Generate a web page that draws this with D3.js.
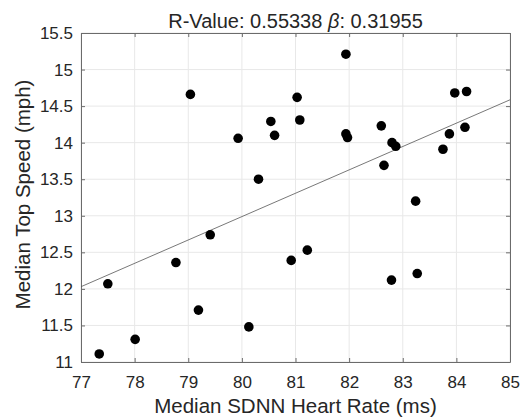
<!DOCTYPE html>
<html>
<head>
<meta charset="utf-8">
<script src="https://cdn.jsdelivr.net/npm/d3@7"></script>
<style>
  body { margin: 0; background: #fff; }
  text { font-family: "Liberation Sans", Arial, Helvetica, sans-serif; fill: #262626; }
</style>
</head>
<body>
<div id="chart"></div>
<script>
// data
var heartRate = [77.34, 77.50, 78.01, 78.77, 79.19, 79.41, 79.04, 79.93, 80.13, 80.31,
                 80.54, 80.61, 80.92, 81.03, 81.08, 81.22, 81.94, 81.94, 81.97, 82.60,
                 82.65, 82.79, 82.80, 82.87, 83.24, 83.27, 83.75, 83.87, 83.97, 84.19, 84.16];
var topSpeed  = [11.11, 12.07, 11.31, 12.36, 11.71, 12.74, 14.66, 14.06, 11.48, 13.50,
                 14.29, 14.10, 12.39, 14.62, 14.31, 12.53, 15.21, 14.12, 14.07, 14.23,
                 13.69, 12.12, 14.00, 13.95, 13.20, 12.21, 13.91, 14.12, 14.68, 14.70, 14.21];
var xTicks = [77, 78, 79, 80, 81, 82, 83, 84, 85];
var yTicks = [11, 11.5, 12, 12.5, 13, 13.5, 14, 14.5, 15, 15.5];
var rValue = 0.55338,
    beta = 0.31955,
    intercept77 = 12.03; // fitted line value at x = 77

var W = 522, H = 417,
    plotLeft = 81, plotRight = 510, plotTop = 33, plotBottom = 362,
    axisColor = '#6b6b6b',
    gridColor = '#e8e8e8',
    tickLen = 4;

var svg = d3.select('#chart').append('svg')
    .attr('width', W)
    .attr('height', H);

var x = d3.scaleLinear().domain([77, 85]).range([plotLeft, plotRight]);
var y = d3.scaleLinear().domain([11, 15.5]).range([plotBottom, plotTop]);

// grid
svg.append('g').selectAll('line').data(xTicks).enter().append('line')
    .attr('x1', function (d) { return x(d); }).attr('x2', function (d) { return x(d); })
    .attr('y1', plotTop).attr('y2', plotBottom)
    .attr('stroke', gridColor).attr('stroke-width', 1);
svg.append('g').selectAll('line').data(yTicks).enter().append('line')
    .attr('y1', function (d) { return y(d); }).attr('y2', function (d) { return y(d); })
    .attr('x1', plotLeft).attr('x2', plotRight)
    .attr('stroke', gridColor).attr('stroke-width', 1);

// axes, ticks pointing inside
var xAxis = d3.axisBottom(x).tickValues(xTicks).tickSizeInner(-tickLen).tickSizeOuter(0).tickPadding(14)
    .tickFormat(d3.format('d'));
var xTop = d3.axisTop(x).tickValues(xTicks).tickSizeInner(-tickLen).tickSizeOuter(0).tickFormat('');
var yAxis = d3.axisLeft(y).tickValues(yTicks).tickSizeInner(-tickLen).tickSizeOuter(0).tickPadding(8)
    .tickFormat(function (d) { return String(d); });
var yRight = d3.axisRight(y).tickValues(yTicks).tickSizeInner(-tickLen).tickSizeOuter(0).tickFormat('');

function styleAxis(g) {
    g.selectAll('path').attr('stroke', axisColor);
    g.selectAll('line').attr('stroke', axisColor);
    g.selectAll('text').attr('font-size', 17).attr('fill', '#262626')
        .attr('font-family', '"Liberation Sans", Arial, sans-serif');
}

svg.append('g').attr('transform', 'translate(0,' + plotBottom + ')').call(xAxis).call(styleAxis);
svg.append('g').attr('transform', 'translate(0,' + plotTop + ')').call(xTop).call(styleAxis);
svg.append('g').attr('transform', 'translate(' + plotLeft + ',0)').call(yAxis).call(styleAxis);
svg.append('g').attr('transform', 'translate(' + plotRight + ',0)').call(yRight).call(styleAxis);

// fitted line
svg.append('line')
    .attr('x1', x(77)).attr('y1', y(intercept77))
    .attr('x2', x(85)).attr('y2', y(intercept77 + beta * 8))
    .attr('stroke', '#555').attr('stroke-width', 0.8);

// points
svg.append('g').selectAll('circle')
    .data(heartRate.map(function (d, i) { return [d, topSpeed[i]]; }))
    .enter().append('circle')
    .attr('cx', function (d) { return x(d[0]); })
    .attr('cy', function (d) { return y(d[1]); })
    .attr('r', 4.8)
    .attr('fill', '#000');

// labels
svg.append('text')
    .attr('x', (plotLeft + plotRight) / 2).attr('y', 413)
    .attr('text-anchor', 'middle').attr('font-size', 20.5)
    .text('Median SDNN Heart Rate (ms)');

svg.append('text')
    .attr('transform', 'translate(30,' + ((plotTop + plotBottom) / 2 - 3) + ') rotate(-90)')
    .attr('text-anchor', 'middle').attr('font-size', 20.5)
    .text('Median Top Speed (mph)');

var title = svg.append('text')
    .attr('x', (plotLeft + plotRight) / 2).attr('y', 28)
    .attr('text-anchor', 'middle').attr('font-size', 20);
title.append('tspan').text('R-Value: ' + rValue + ' ');
title.append('tspan').attr('font-style', 'italic').text('β');
title.append('tspan').text(': ' + beta);
</script>
</body>
</html>
